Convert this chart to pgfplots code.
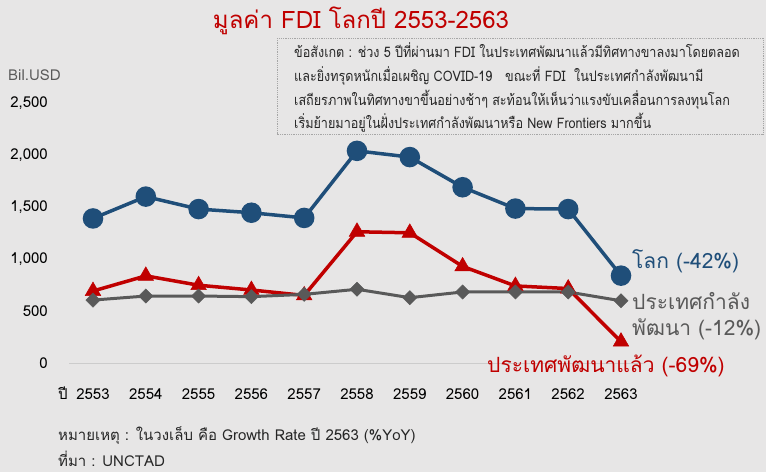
\documentclass[border=0pt]{standalone}
\usepackage{pgfplots}
\pgfplotsset{compat=1.18}
\usepackage{fontspec}
\setmainfont{Loma}[Script=Thai]
\newfontfamily\narrowfont{Loma}[Script=Thai, FakeStretch=0.87]
\definecolor{bg}{HTML}{E7E6E6}
\definecolor{worldc}{HTML}{1F4E79}
\definecolor{devc}{HTML}{C00000}
\definecolor{dingc}{HTML}{595959}
\definecolor{txt}{HTML}{262626}
\begin{document}
\begin{tikzpicture}[x=1pt,y=-1pt]
\fill[bg] (0,0) rectangle (766,472);
\begin{axis}[
  at={(93pt,-363pt)}, anchor=south west,
  scale only axis, width=528pt, height=260pt,
  xmin=2553, xmax=2563, ymin=0, ymax=2500,
  clip=false,
  axis line style={draw=none},
  tick style={draw=none},
  xtick={2553,...,2563},
  ytick={0,500,1000,1500,2000,2500},
  scaled y ticks=false,
  /pgf/number format/1000 sep={,},
  /pgf/number format/assume math mode=true,
  xticklabel={\pgfmathprintnumber[1000 sep={}]{\tick}},
  xticklabel style={font=\fontsize{15}{17}\selectfont, text=black, anchor=center, inner sep=0pt, yshift=-31pt},
  yticklabel style={font=\fontsize{15}{17}\selectfont, text=black, anchor=east, inner sep=0pt, xshift=-45pt},
]
\draw[gray!40, line width=0.8pt] (axis cs:2552.55,0) -- (axis cs:2563.45,0);
\addplot[worldc, line width=3.5pt, mark=*, mark size=8.5pt] coordinates {
(2553,1390) (2554,1600) (2555,1480) (2556,1445) (2557,1395) (2558,2040) (2559,1980) (2560,1690) (2561,1485) (2562,1480) (2563,840)};
\addplot[devc, line width=3.5pt, mark=triangle*, mark size=9pt, mark options={line width=0.5pt}] coordinates {
(2553,692) (2554,838) (2555,748) (2556,702) (2557,650) (2558,1262) (2559,1252) (2560,929) (2561,741) (2562,716) (2563,205)};
\addplot[dingc, line width=3pt, mark=square*, mark size=5pt, mark options={rotate=45, line width=0.5pt}] coordinates {
(2553,605) (2554,644) (2555,644) (2556,638) (2557,660) (2558,709) (2559,628) (2560,683) (2561,683) (2562,683) (2563,598)};
\end{axis}
% title
\node[anchor=base, text=devc, font=\fontsize{24}{28}\selectfont] at (361,28) {มูลค่า FDI โลกปี 2553-2563};
% y unit
\node[anchor=base west, text=dingc, font=\fontsize{15}{17}\selectfont, inner sep=0pt] at (8,80) {Bil.USD};
% annotation box
\draw[gray!70, densely dotted, line width=0.8pt, fill=bg] (277,38) rectangle (763,134);
\begin{scope}[every node/.style={anchor=base west, inner sep=0pt, text=txt, font=\narrowfont\fontsize{14.5}{16}\selectfont}]
\node at (294,57) {ข้อสังเกต : ช่วง 5 ปีที่ผ่านมา FDI ในประเทศพัฒนาแล้วมีทิศทางขาลงมาโดยตลอด};
\node at (294,81) {และยิ่งทรุดหนักเมื่อเผชิญ COVID-19 \ \ ขณะที่ FDI \ ในประเทศกำลังพัฒนามี};
\node at (294,105) {เสถียรภาพในทิศทางขาขึ้นอย่างช้าๆ สะท้อนให้เห็นว่าแรงขับเคลื่อนการลงทุนโลก};
\node at (294,128) {เริ่มย้ายมาอยู่ในฝั่งประเทศกำลังพัฒนาหรือ New Frontiers มากขึ้น};
\end{scope}
% series labels
\begin{scope}[every node/.style={anchor=base west, inner sep=0pt, font=\fontsize{21}{24}\selectfont}]
\node[text=worldc] at (632,268) {โลก (-42\%)};
\node[text=dingc] at (632,309) {ประเทศกำลัง};
\node[text=dingc] at (632,335) {พัฒนา (-12\%)};
\node[text=devc] at (487,372) {ประเทศพัฒนาแล้ว (-69\%)};
\end{scope}
% x prefix and notes
\node[anchor=base west, inner sep=0pt, text=black, font=\fontsize{15}{17}\selectfont] at (58,399) {ปี};
\begin{scope}[every node/.style={anchor=base west, inner sep=0pt, text=txt, font=\fontsize{15}{17}\selectfont}]
\node at (58,440) {หมายเหตุ : ในวงเล็บ คือ Growth Rate ปี 2563 (\%YoY)};
\node at (58,466) {ที่มา : UNCTAD};
\end{scope}
\pgfresetboundingbox
\path[use as bounding box] (0,0) rectangle (766,472);
\end{tikzpicture}
\end{document}
